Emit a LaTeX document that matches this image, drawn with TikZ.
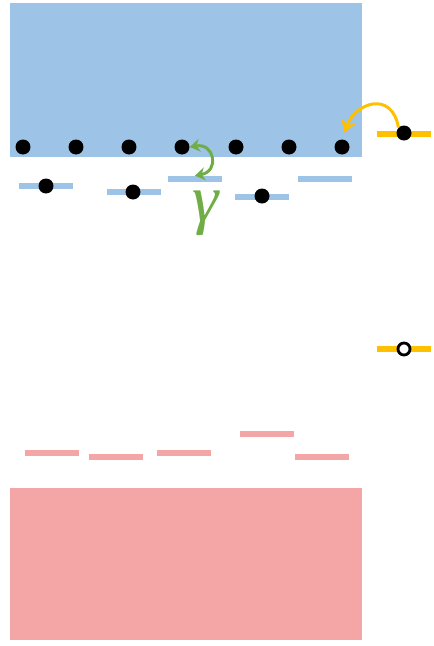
\documentclass[tikz,border=0pt]{standalone}
\usepackage{fontspec}
\newfontfamily\greekfont{Liberation Serif}
\usepackage{tikz}
\usetikzlibrary{positioning, arrows.meta}
\definecolor{bandblue}{RGB}{157,195,230}
\definecolor{bandred}{RGB}{244,166,166}
\definecolor{defyellow}{RGB}{255,192,0}
\definecolor{photgreen}{RGB}{112,173,71}
\tikzset{
    band_style/.style={
        fill=#1,              % band colour
        draw=none
    },
    level_style/.style={
        rectangle,            % a short flat bar
        fill=#1,
        inner sep=0pt,
        minimum width=1.1cm,
        minimum height=0.12cm
    },
    electron_style/.style={
        circle,               % filled electron
        fill=black,
        inner sep=0pt,
        minimum size=0.3cm
    },
    hole_style/.style={
        circle,               % empty state
        draw=black,
        line width=1.6pt,
        fill=white,
        inner sep=0pt,
        minimum size=0.24cm
    },
    green_arrow/.style={
        {Stealth[length=2mm,width=2.6mm]}-{Stealth[length=2mm,width=2.6mm]},
        draw=photgreen,
        line width=1.7pt
    },
    yellow_arrow/.style={
        -{Stealth[length=2.4mm,width=3mm]},
        draw=defyellow,
        line width=1.7pt,
        shorten >=4pt
    }
}

\begin{document}
\begin{tikzpicture}[x=0.02cm, y=-0.02cm]
    \useasboundingbox (0,0) rectangle (433,646);
    % 1. bands
    \fill[band_style=bandblue] (10,3) rectangle (362,157);
    \fill[band_style=bandred] (10,488) rectangle (362,640);

    % 2. electrons along the band edge
    \foreach \i/\x in {1/23, 2/76, 3/129, 4/182, 5/236, 6/289, 7/342}
        \node[electron_style] (d\i) at (\x,147) {};

    % 3. blue levels below the band
    \node[level_style=bandblue] (l1) at (46,186) {};
    \node[level_style=bandblue] (l2) at (134,192) {};
    \node[level_style=bandblue] (l3) at (195,179) {};
    \node[level_style=bandblue] (l4) at (262,197) {};
    \node[level_style=bandblue] (l5) at (325,179) {};
    \node[electron_style] (e1) at (46,186) {};
    \node[electron_style] (e2) at (133,192) {};
    \node[electron_style] (e4) at (262,196) {};

    % 4. red levels above the lower band
    \node[level_style=bandred] (r1) at (52,453) {};
    \node[level_style=bandred] (r2) at (116,457) {};
    \node[level_style=bandred] (r3) at (184,453) {};
    \node[level_style=bandred] (r4) at (267,434) {};
    \node[level_style=bandred] (r5) at (322,457) {};

    % 5. defect levels on the right
    \node[level_style=defyellow] (y1) at (404,134) {};
    \node[electron_style] (ye) at (404,133) {};
    \node[level_style=defyellow] (y2) at (404,349) {};
    \node[hole_style] (yh) at (404,349) {};

    % 6. arrows and label
    \draw[green_arrow] (d4.east) to[out=10, in=10, looseness=2.2] (l3.north);
    \draw[yellow_arrow] (ye.north west) to[out=100, in=70, looseness=1.7] (d7.north);
    \node[text=photgreen, font=\greekfont\itshape\fontsize{38}{38}\selectfont] (gam) at (206,213) {γ};
\end{tikzpicture}
\end{document}
